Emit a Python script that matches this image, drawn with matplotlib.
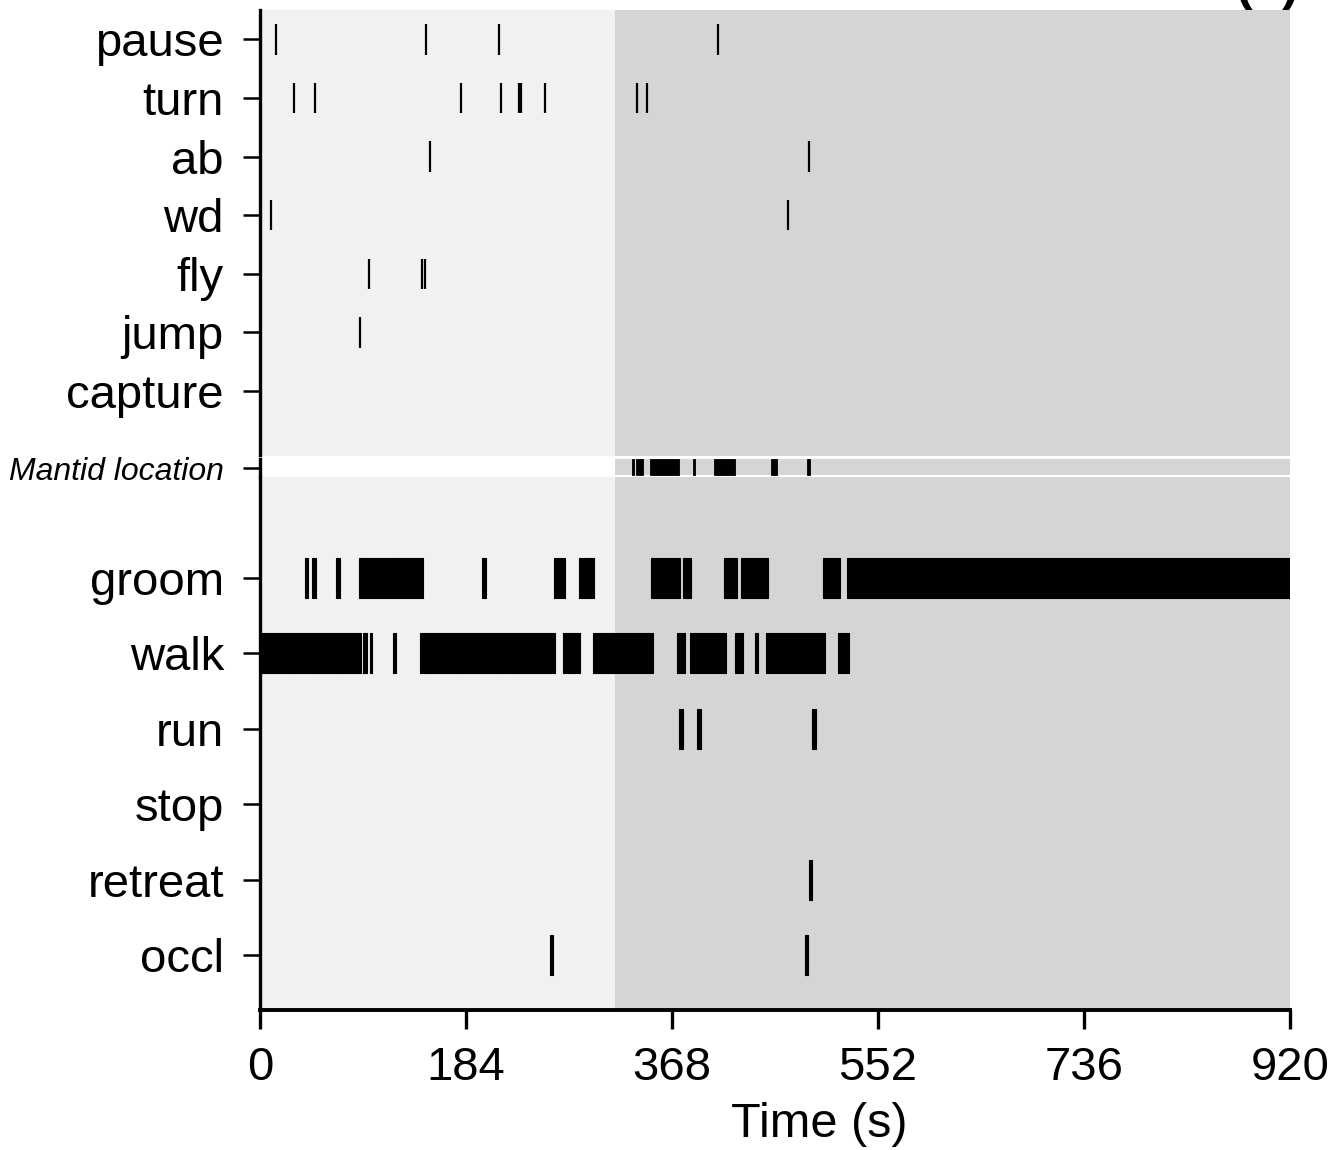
import numpy as np
import matplotlib.pyplot as plt

plt.rcParams['font.family'] = ['Liberation Sans', 'DejaVu Sans']

W = 1332
H = 1150

# behaviour events, times in seconds
top_labels = ['pause', 'turn', 'ab', 'wd', 'fly', 'jump', 'capture']
pause_t = [14.0, 148.0, 213.5, 409.4]
turn_t = [30.4, 48.8, 179.2, 215.6, 231.6, 233.0, 254.3, 336.4, 346.0]
ab_t = [152.1, 490.4]
wd_t = [9.8, 471.2]
fly_t = [97.0, 144.5, 147.6]
jump_t = [88.9]
capture_t = []

# bouts as (start, end) in seconds
mantid_bouts = [(332.0, 333.8), (335.6, 341.8), (348.4, 374.5), (387.0, 388.8),
                (405.8, 424.3), (456.4, 462.1), (488.3, 491.3)]

bottom_labels = ['groom', 'walk', 'run', 'stop', 'retreat', 'occl']
groom_bouts = [(40.5, 42.9), (46.4, 50.0), (68.2, 71.5), (88.7, 93.8), (93.8, 120.0),
               (120.0, 145.6), (198.6, 201.6), (262.3, 272.4), (284.6, 298.6),
               (349.5, 374.9), (377.8, 385.3), (414.4, 425.8), (430.0, 453.5),
               (502.9, 517.8), (524.3, 920.0)]
walk_bouts = [(0.0, 31.3), (31.3, 48.5), (48.5, 70.0), (70.0, 90.3), (92.3, 95.8),
              (98.2, 100.3), (118.5, 121.5), (142.6, 148.9), (148.9, 179.2),
              (179.2, 214.4), (214.4, 231.6), (231.6, 263.8), (270.9, 286.1),
              (297.2, 351.3), (372.7, 375.1), (375.9, 379.5), (383.8, 391.5),
              (391.5, 416.2), (424.3, 431.7), (442.4, 445.1), (451.7, 471.0),
              (471.0, 495.1), (495.1, 504.7), (516.0, 525.8)]
run_bouts = [(374.0, 377.5), (390.1, 393.6), (493.1, 496.6)]
stop_bouts = []
retreat_bouts = [(490.6, 493.1)]
occl_bouts = [(259.3, 261.7), (486.8, 489.2)]

t_end = 920
t_switch = 317
xticks = [0, 184, 368, 552, 736, 920]

light = '#f1f1f1'
dark = '#d5d5d5'


def px_axes(fig, x0, y0, x1, y1):
    return fig.add_axes([x0/W, 1 - y1/H, (x1 - x0)/W, (y1 - y0)/H])


def style_axis(ax, show_x=False):
    for side in ['top', 'right']:
        ax.spines[side].set_visible(False)
    ax.spines['left'].set_linewidth(2.4)
    ax.spines['bottom'].set_linewidth(2.8)
    ax.spines['bottom'].set_visible(show_x)
    ax.tick_params(axis='y', length=12, width=1.8, pad=14, labelsize=34)
    if show_x:
        ax.tick_params(axis='x', length=14, width=2.4, pad=12, labelsize=34)
    else:
        ax.tick_params(axis='x', bottom=False, labelbottom=False)
    ax.set_xlim(0, t_end)


def bout_spans(bouts):
    return [(s, e - s) for s, e in bouts]


fig = plt.figure(figsize=(W/100, H/100), dpi=100)

# point events
ax1 = px_axes(fig, 260, 10, 1290, 455.5)
ax1.set_facecolor(light)
ax1.axvspan(t_switch, t_end, color=dark, lw=0)
top_events = [pause_t, turn_t, ab_t, wd_t, fly_t, jump_t, capture_t]
n_top = len(top_labels)
for i, times in enumerate(top_events):
    y = n_top - 1 - i
    if len(times):
        ax1.vlines(times, y - 0.26, y + 0.26, color='black', lw=1.6)
ax1.set_ylim(-1.1, n_top - 0.5)
ax1.set_yticks(np.arange(n_top)[::-1])
ax1.set_yticklabels(top_labels)
style_axis(ax1)

# mantid location strip
ax2 = px_axes(fig, 260, 459, 1290, 477)
ax2.set_facecolor('white')
ax2.axvspan(t_switch, t_end, ymin=2.5/18, ymax=1, color=dark, lw=0)
ax2.broken_barh(bout_spans(mantid_bouts), (0, 1), facecolor='black',
                edgecolor='black', lw=0.6)
ax2.set_ylim(-2.5/15.5, 1)
ax2.set_yticks([0.4])
ax2.set_yticklabels(['Mantid location'], fontsize=23, style='italic')
style_axis(ax2)
ax2.tick_params(axis='y', labelsize=23, pad=14)

# bouts
ax3 = px_axes(fig, 260, 477, 1290, 1010)
ax3.set_facecolor(light)
ax3.axvspan(t_switch, t_end, color=dark, lw=0)
bottom_bouts = [groom_bouts, walk_bouts, run_bouts, stop_bouts, retreat_bouts, occl_bouts]
n_bot = len(bottom_labels)
for i, bouts in enumerate(bottom_bouts):
    y = n_bot - 1 - i
    if len(bouts):
        ax3.broken_barh(bout_spans(bouts), (y - 0.265, 0.53), facecolor='black',
                        edgecolor='black', lw=0.8)
ax3.set_ylim(-0.73, n_bot - 1 + 1.34)
ax3.set_yticks(np.arange(n_bot)[::-1])
ax3.set_yticklabels(bottom_labels)
style_axis(ax3, show_x=True)
ax3.set_xticks(xticks)
ax3.set_xlabel('Time (s)', fontsize=35)
ax3.xaxis.set_label_coords((819 - 260)/1030, -0.172)

# panel letter, mostly above the canvas
fig.text(1267.5/W, 1.0, '(b)', fontsize=36, fontweight='bold', ha='center', va='baseline')

plt.savefig('out.png', dpi=100)
plt.close()
